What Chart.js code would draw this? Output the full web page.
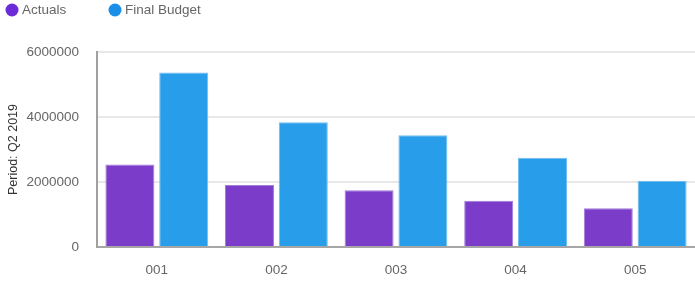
<!DOCTYPE html>
<html>
<head>
<meta charset="utf-8">
<script src="https://cdn.jsdelivr.net/npm/chart.js@4.4.1/dist/chart.umd.min.js"></script>
<style>
  html, body { margin: 0; padding: 0; background: #fff; }
  #wrap { width: 695px; height: 281px; }
</style>
</head>
<body>
<div id="wrap"><canvas id="budgetChart" width="695" height="281"></canvas></div>
<script>
var categories = ['001', '002', '003', '004', '005'];
var actuals = [2540000, 1910000, 1750000, 1420000, 1190000];
var finalBudget = [5370000, 3840000, 3440000, 2750000, 2040000];
var yTicks = [0, 2000000, 4000000, 6000000];

var fonte = '"Liberation Sans", Arial, sans-serif';

// legenda desenhada à mão para ficar igual à referência
var legendaTopo = {
    id: 'legendaTopo',
    afterDraw: function (chart) {
        var ctx = chart.ctx;
        var posicoes = [12, 115];
        ctx.save();
        ctx.font = '13.5px ' + fonte;
        ctx.textBaseline = 'middle';
        ctx.textAlign = 'left';
        chart.data.datasets.forEach(function (ds, i) {
            var x = posicoes[i];
            ctx.beginPath();
            ctx.arc(x, 10, 6.5, 0, Math.PI * 2);
            ctx.fillStyle = ds.legendColor;
            ctx.fill();
            ctx.fillStyle = '#666';
            ctx.fillText(ds.label, x + 10, 10.5);
        });
        ctx.restore();
    }
};

var ctx = document.getElementById('budgetChart').getContext('2d');

var chart = new Chart(ctx, {
    type: 'bar',
    data: {
        labels: categories,
        datasets: [{
            label: 'Actuals',
            data: actuals,
            backgroundColor: '#7b3cc9',
            borderColor: '#a27ddb',
            legendColor: '#6c2bd9',
            borderWidth: 1,
            categoryPercentage: 0.9,
            barPercentage: 0.91
        }, {
            label: 'Final Budget',
            data: finalBudget,
            backgroundColor: '#289dea',
            borderColor: '#70bdf0',
            legendColor: '#1b8fe8',
            borderWidth: 1,
            categoryPercentage: 0.9,
            barPercentage: 0.91
        }]
    },
    options: {
        responsive: false,
        devicePixelRatio: 1,
        animation: false,
        layout: {
            padding: { top: 52, right: 0, bottom: 0, left: 0 }
        },
        scales: {
            x: {
                afterFit: function (axis) { axis.height = 34; },
                grid: { display: false, drawTicks: false },
                border: { display: true, color: '#a6a6a6', width: 2 },
                ticks: {
                    color: '#666',
                    padding: 15,
                    font: { size: 13.5, family: fonte }
                }
            },
            y: {
                min: 0,
                max: 6000000,
                afterFit: function (axis) { axis.width = 97; },
                afterBuildTicks: function (axis) {
                    axis.ticks = yTicks.map(function (v) { return { value: v }; });
                },
                grid: { color: '#e8e8e8', lineWidth: 2, drawTicks: false },
                border: { display: true, color: '#a0a0a0', width: 2 },
                ticks: {
                    color: '#666',
                    padding: 18,
                    font: { size: 13.5, family: fonte },
                    callback: function (v) { return String(v); }
                },
                title: {
                    display: true,
                    text: 'Period: Q2 2019',
                    color: '#333',
                    padding: 6,
                    font: { size: 12.5, family: fonte }
                }
            }
        },
        plugins: {
            legend: { display: false },
            tooltip: { enabled: false }
        }
    },
    plugins: [legendaTopo]
});
</script>
</body>
</html>
